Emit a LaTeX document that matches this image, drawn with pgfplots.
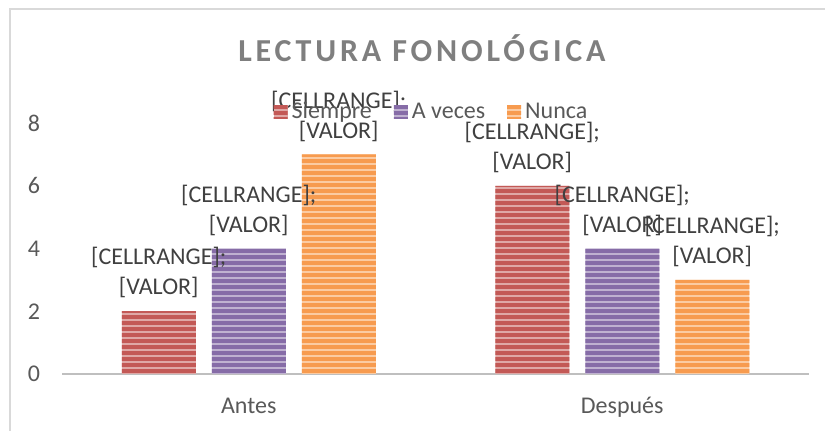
\documentclass[border=0pt]{standalone}
\usepackage{fontspec}
\setmainfont{Carlito}
\newfontfamily\titlefont[LetterSpace=12]{Carlito}
\usepackage{pgfplots}
\pgfplotsset{compat=1.18}
\usetikzlibrary{patterns.meta}
\definecolor{cred}{HTML}{C0504D}
\definecolor{cpurple}{HTML}{8064A2}
\definecolor{corange}{HTML}{F79646}
\definecolor{tgray}{HTML}{595959}
\definecolor{lgray}{HTML}{404040}
\definecolor{titlegray}{HTML}{7F7F7F}
\definecolor{axgray}{HTML}{BFBFBF}
\definecolor{bordergray}{HTML}{D9D9D9}
\begin{document}
\begin{tikzpicture}[x=0.5pt,y=0.5pt]
\useasboundingbox (0,0) rectangle (825,431);
\draw[bordergray, line width=1pt] (10,-5) -- (10,422) -- (830,422);
\node[text=titlegray, font=\titlefont\fontsize{16}{19}\selectfont\bfseries] at (422,383) {LECTURA FONOLÓGICA};
\begin{axis}[
  at={(31pt,28.5pt)}, anchor=south west,
  scale only axis, width=373.5pt, height=125.5pt,
  xmin=-0.5, xmax=1.5, ymin=0, ymax=8,
  ybar=8pt, bar width=37pt,
  xtick={0,1}, xticklabels={Antes,Después},
  ytick={0,2,4,6,8},
  axis x line=bottom, axis y line=left,
  y axis line style={draw=none},
  x axis line style={draw=axgray, line width=1pt, -},
  tick style={draw=none}, major tick length=0pt,
  ticklabel style={font=\fontsize{12}{14}\selectfont, text=tgray},
  /pgf/number format/assume math mode=true,
  yticklabel style={xshift=-7.5pt},
  xticklabel style={yshift=-8pt, text height=8pt, text depth=2pt},
  nodes near coords={[CELLRANGE];\\{}[VALOR]},
  every node near coord/.append style={align=center, font=\fontsize{12}{15}\selectfont, text=lgray, yshift=3pt},
  legend style={at={(0.496,1.044)}, anchor=center, legend columns=3, draw=none, fill=none,
    font=\fontsize{12}{14}\selectfont, text=tgray,
    /tikz/every even column/.append style={column sep=9pt}},
  legend image code/.code={\fill[#1] (0pt,-3.5pt) rectangle (7pt,3.5pt);},
  clip=false,
]
\addplot[fill=cred!50!white, draw=none, postaction={pattern={Lines[angle=0,distance=3pt,line width=1.9pt]}, pattern color=cred!95}] coordinates {(0,2) (1,6)};
\addplot[fill=cpurple!50!white, draw=none, postaction={pattern={Lines[angle=0,distance=3pt,line width=1.9pt]}, pattern color=cpurple!95}] coordinates {(0,4) (1,4)};
\addplot[fill=corange!50!white, draw=none, postaction={pattern={Lines[angle=0,distance=3pt,line width=1.9pt]}, pattern color=corange!95}] coordinates {(0,7) (1,3)};
\legend{Siempre, A veces, Nunca}
\end{axis}
\end{tikzpicture}
\end{document}
